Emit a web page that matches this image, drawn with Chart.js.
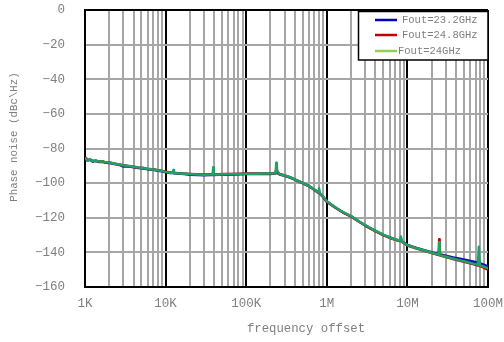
<!DOCTYPE html>
<html>
<head>
<meta charset="utf-8">
<script src="https://cdn.jsdelivr.net/npm/chart.js@4.4.1/dist/chart.umd.min.js"></script>
<style>
  html, body { margin: 0; padding: 0; background: #fff; }
  canvas { display: block; }
</style>
</head>
<body>
<canvas id="pnChart" width="504" height="342"></canvas>
<script>
// offset frequency (Hz)
const freqs = [1000, 1080, 1150, 1250, 1350, 1500, 1650, 1800, 2000, 2300, 2600, 3000, 3400, 4000, 4600, 5300, 6000, 7000, 8000, 9000,
  10000, 11500, 12300, 12500, 12700, 14000, 17000, 20000, 25000, 30000, 36000, 38500, 39000, 39500, 45000, 55000, 70000, 85000,
  100000, 130000, 170000, 200000, 225000, 233000, 236000, 240000, 260000, 300000, 350000, 400000, 500000, 600000, 700000, 780000,
  800000, 820000, 900000, 1000000, 1300000, 1600000, 2000000, 2500000, 3000000, 4000000, 5000000, 6500000, 8000000, 8300000,
  8600000, 10000000, 13000000, 17000000, 21000000, 24500000, 24800000, 25100000, 30000000, 37000000, 45000000, 55000000,
  65000000, 75000000, 77000000, 79000000, 85000000, 92000000, 100000000];

// phase noise (dBc/Hz)
const pn232 = [-86.0, -87.0, -86.6, -87.6, -87.2, -87.8, -87.7, -88.2, -88.4, -89.0, -89.3, -90.4, -90.2, -90.8, -91.2, -91.5, -92.0, -92.3, -92.8, -93.2,
  -93.7, -94.2, -94.2, -94.0, -94.3, -94.5, -94.8, -95.1, -95.3, -95.4, -95.3, -95.3, -94.0, -95.3, -95.2, -95.1, -95.0, -94.9,
  -94.8, -94.8, -94.7, -94.7, -94.5, -94.3, -92.0, -94.0, -95.0, -95.8, -96.8, -98.0, -100.0, -101.8, -103.8, -105.4,
  -105.0, -106.1, -108.0, -110.7, -114.4, -117.0, -119.2, -122.2, -124.5, -127.6, -129.9, -132.0, -133.3, -133.0,
  -133.7, -135.7, -137.4, -139.0, -140.2, -141.0, -139.0, -141.1, -142.0, -142.9, -143.7, -144.6,
  -145.3, -146.0, -145.0, -146.3, -146.8, -147.4, -148.2];

const pn248 = [-85.0, -86.6, -86.3, -87.2, -87.0, -87.5, -87.3, -88.1, -88.0, -88.7, -89.2, -89.6, -90.1, -90.5, -91.0, -91.2, -91.9, -92.0, -92.5, -93.0,
  -93.4, -93.9, -94.0, -93.5, -94.0, -94.2, -94.5, -94.7, -94.9, -95.0, -94.9, -94.9, -93.0, -94.9, -94.9, -94.8, -94.7, -94.6,
  -94.5, -94.5, -94.4, -94.4, -94.2, -94.0, -91.0, -93.5, -94.7, -95.6, -96.6, -97.8, -99.9, -101.7, -103.8, -105.4,
  -104.8, -106.0, -108.0, -110.7, -114.4, -117.0, -119.2, -122.2, -124.5, -127.7, -130.0, -132.2, -133.5, -133.0,
  -134.0, -136.0, -137.8, -139.4, -140.7, -141.5, -132.4, -141.7, -142.7, -143.8, -144.8, -145.9,
  -146.8, -147.6, -146.0, -147.9, -148.4, -149.2, -150.0];

const pn24 = [-85.5, -86.8, -86.2, -87.3, -86.9, -87.6, -87.4, -88.0, -88.1, -88.8, -89.1, -89.8, -90.0, -90.6, -91.0, -91.3, -91.8, -92.1, -92.6, -93.0,
  -93.5, -94.0, -94.0, -92.4, -94.1, -94.3, -94.6, -94.8, -95.0, -95.1, -95.0, -95.0, -90.8, -95.0, -95.0, -94.9, -94.8, -94.7,
  -94.6, -94.6, -94.5, -94.5, -94.3, -93.8, -88.3, -92.5, -94.8, -95.6, -96.6, -97.8, -99.8, -101.6, -103.6, -105.2,
  -103.0, -105.8, -107.8, -110.5, -114.2, -116.8, -119.0, -122.0, -124.3, -127.5, -129.8, -132.0, -133.3, -130.8,
  -133.8, -135.8, -137.6, -139.2, -140.5, -141.3, -134.2, -141.5, -142.5, -143.6, -144.6, -145.6,
  -146.5, -147.2, -136.8, -147.5, -147.9, -148.5, -149.2];

const seriesNames = ['Fout=23.2GHz', 'Fout=24.8GHz', 'Fout=24GHz'];
const lineColors = ['#1414b4', '#c00000', '#1fa265'];
const legendColors = ['#0000c0', '#c00000', '#92d050'];

const xDecades = [1e3, 1e4, 1e5, 1e6, 1e7, 1e8];
const xTickLabels = ['1K', '10K', '100K', '1M', '10M', '100M'];

const xTitle = 'frequency offset';
const yTitle = 'Phase noise (dBc\\Hz)';

const toPoints = (ys) => freqs.map((f, i) => ({ x: f, y: ys[i] }));
const isDecade = (v) => xDecades.some(d => Math.abs(v / d - 1) < 1e-6);

// legend box and axis titles, drawn on top
const overlay = {
  id: 'overlay',
  afterDraw(chart) {
    const c = chart.ctx;
    c.save();
    // legend
    c.fillStyle = '#fff';
    c.fillRect(358, 11, 130, 49);
    c.strokeStyle = '#000';
    c.lineWidth = 1.5;
    c.strokeRect(358.5, 11.5, 129.5, 48.5);
    c.font = '10.5px "Liberation Mono"';
    c.textBaseline = 'middle';
    const rows = [20, 35, 51];
    seriesNames.forEach((name, i) => {
      c.strokeStyle = legendColors[i];
      c.lineWidth = 2.5;
      c.beginPath();
      c.moveTo(375, rows[i]);
      c.lineTo(397, rows[i]);
      c.stroke();
      c.fillStyle = '#7f7f7f';
      c.fillText(name, i === 2 ? 398 : 402, rows[i] + 0.5);
    });
    // axis titles
    c.fillStyle = '#7f7f7f';
    c.textAlign = 'center';
    c.font = '12.3px "Liberation Mono"';
    c.fillText(xTitle, 306, 329);
    c.translate(14, 137);
    c.rotate(-Math.PI / 2);
    c.font = '10.8px "Liberation Mono"';
    c.fillText(yTitle, 0, 0);
    c.restore();
  }
};

const ctx = document.getElementById('pnChart').getContext('2d');
new Chart(ctx, {
  type: 'line',
  data: {
    datasets: [
      { label: seriesNames[0], data: toPoints(pn232), borderColor: lineColors[0], order: 2 },
      { label: seriesNames[1], data: toPoints(pn248), borderColor: lineColors[1], order: 1 },
      { label: seriesNames[2], data: toPoints(pn24), borderColor: lineColors[2], order: 0 }
    ]
  },
  options: {
    responsive: false,
    animation: false,
    layout: { padding: { top: 10, right: 16, left: 0, bottom: 0 } },
    elements: {
      point: { radius: 0 },
      line: { borderWidth: 2.5, tension: 0, borderJoinStyle: 'round' }
    },
    plugins: {
      legend: { display: false },
      tooltip: { enabled: false }
    },
    scales: {
      x: {
        type: 'logarithmic',
        min: 1e3,
        max: 1e8,
        afterBuildTicks(scale) {
          const t = [];
          xDecades.forEach((d, i) => {
            if (i === xDecades.length - 1) { t.push({ value: d }); return; }
            for (let m = 1; m <= 9; m++) t.push({ value: d * m });
          });
          scale.ticks = t;
        },
        afterFit(scale) {
          scale.height = 55;
          scale.paddingLeft = 0;
          scale.paddingRight = 0;
        },
        grid: {
          drawTicks: false,
          color: (c) => isDecade(c.tick.value) ? '#000' : '#a6a6a6',
          lineWidth: 2
        },
        border: { color: '#000', width: 2 },
        ticks: {
          autoSkip: false,
          maxRotation: 0,
          padding: 9,
          color: '#7f7f7f',
          font: { family: 'Liberation Mono', size: 12.5 },
          callback: (v) => {
            const i = xDecades.findIndex(d => Math.abs(v / d - 1) < 1e-6);
            return i >= 0 ? xTickLabels[i] : '';
          }
        }
      },
      y: {
        min: -160,
        max: 0,
        afterFit(scale) {
          scale.width = 85;
          scale.paddingTop = 0;
          scale.paddingBottom = 0;
        },
        grid: {
          drawTicks: false,
          color: (c) => c.tick.value === 0 ? '#000' : '#a6a6a6',
          lineWidth: 2
        },
        border: { color: '#000', width: 2 },
        ticks: {
          stepSize: 20,
          padding: 20,
          color: '#7f7f7f',
          font: { family: 'Liberation Mono', size: 12.5 },
          callback: (v) => v < 0 ? '\u2212' + Math.abs(v) : String(v)
        }
      }
    }
  },
  plugins: [overlay]
});
</script>
</body>
</html>
